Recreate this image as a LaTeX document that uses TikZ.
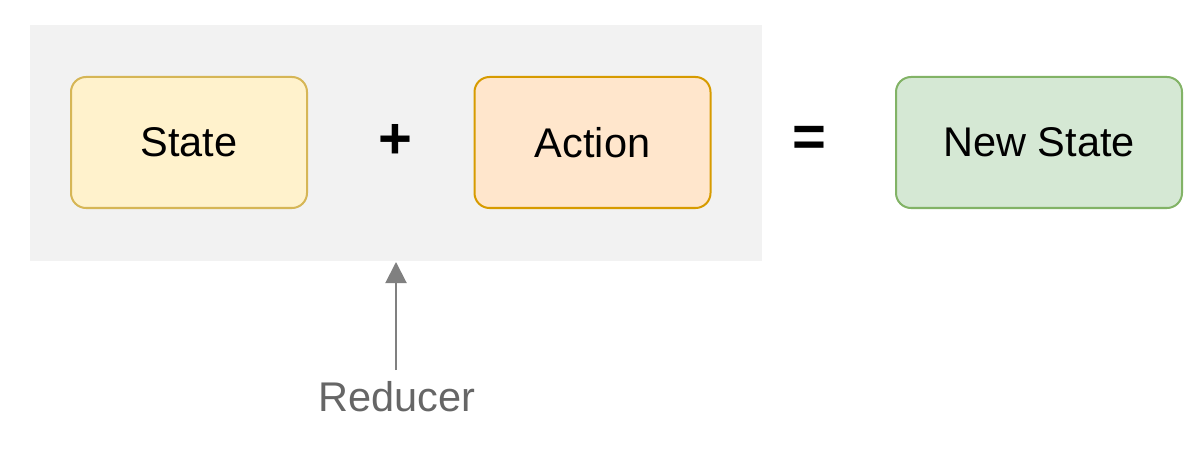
\documentclass[tikz,border=0pt]{standalone}
\usepackage{fontspec}
\setmainfont{Liberation Sans}
\usetikzlibrary{arrows.meta}
\definecolor{bggray}{HTML}{F2F2F2}
\definecolor{statefill}{HTML}{FFF2CC}
\definecolor{statedraw}{HTML}{D6B656}
\definecolor{actfill}{HTML}{FFE6CC}
\definecolor{actdraw}{HTML}{D79B00}
\definecolor{newfill}{HTML}{D5E8D4}
\definecolor{newdraw}{HTML}{82B366}
\definecolor{arrgray}{HTML}{808080}
\definecolor{txtgray}{HTML}{666666}
\tikzset{
  box/.style={rounded corners=15pt, line width=2pt, inner sep=0pt, outer sep=0pt,
    minimum height=131pt, font=\fontsize{41.5}{48}\selectfont},
  opsym/.style={inner sep=0pt, font=\fontsize{58}{60}\selectfont\bfseries},
}
\begin{document}
\begin{tikzpicture}[x=1pt,y=-1pt]
\useasboundingbox (0,0) rectangle (1204,449);
\fill[bggray] (30,25) rectangle (762,261);
\node[box, fill=statefill, draw=statedraw, minimum width=236pt] (state) at (189,142.5) {State};
\node[opsym] (plus) at (395,141) {+};
\node[box, fill=actfill, draw=actdraw, minimum width=236pt] (action) at (592.5,142.5) {Action};
\node[opsym] (eq) at (809,141) {=};
\node[box, fill=newfill, draw=newdraw, minimum width=286pt] (new) at (1039,142.5) {New State};
\node[inner sep=0pt, text=txtgray, font=\fontsize{41.5}{48}\selectfont] (red) at (397,397) {Reducer};
\coordinate (bgbottom) at (396,262);
\draw[arrgray, line width=2pt, -{Triangle[length=21pt,width=21pt]}] (396,370) -- (bgbottom);
\end{tikzpicture}
\end{document}
